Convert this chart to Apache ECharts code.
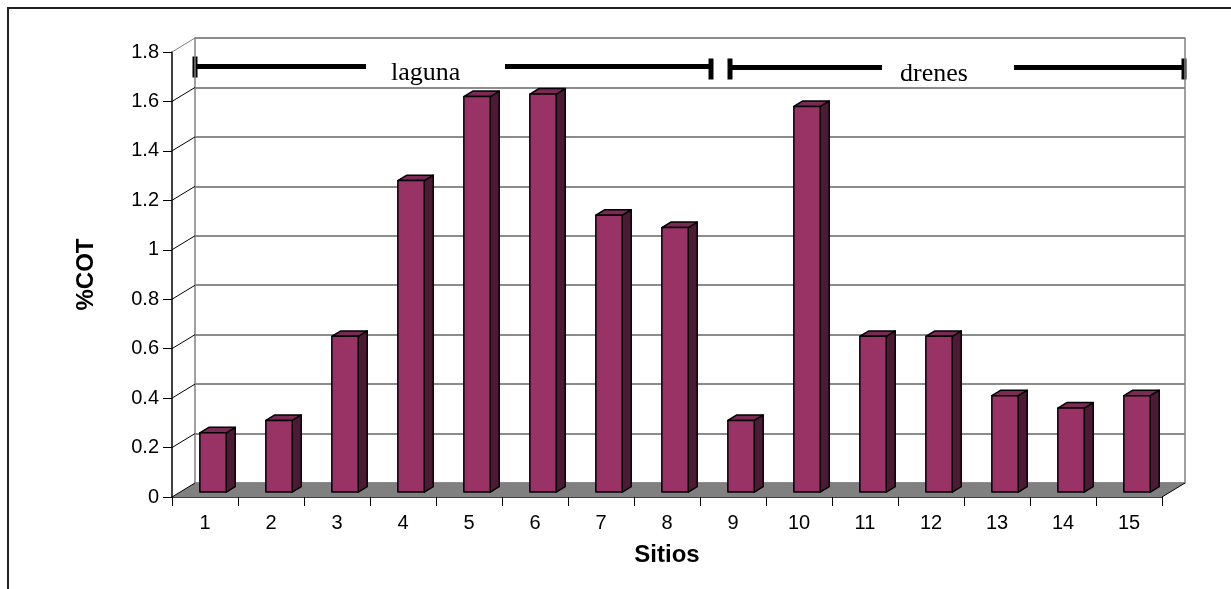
<!DOCTYPE html>
<html>
<head>
<meta charset="utf-8">
<script src="https://cdn.jsdelivr.net/npm/echarts@6/dist/echarts.min.js"></script>
<style>
  html, body { margin: 0; padding: 0; background: #ffffff; }
  #chart { width: 1231px; height: 589px; }
</style>
</head>
<body>
<div id="chart"></div>
<script>
// Sampling sites and total organic carbon (%COT) per site
const sitios = ['1', '2', '3', '4', '5', '6', '7', '8', '9', '10', '11', '12', '13', '14', '15'];
const cot = [0.24, 0.29, 0.63, 1.26, 1.60, 1.61, 1.12, 1.07, 0.29, 1.56, 0.63, 0.63, 0.39, 0.34, 0.39];
const yTicks = [0, 0.2, 0.4, 0.6, 0.8, 1.0, 1.2, 1.4, 1.6, 1.8];
const groupLabels = ['laguna', 'drenes'];
const yTitle = '%COT';
const xTitle = 'Sitios';

// 3D look: offset of the back wall relative to the front plane (px)
const DEPTH_X = 23, DEPTH_Y = -14;
// bar placement inside the depth: front face / back face fractions
const BAR_F0 = 0.35, BAR_F1 = 0.74;

const FRONT = { left: 172, right: 69, top: 52, bottom: 92 };
const BACK = {
  left: FRONT.left + DEPTH_X,
  right: FRONT.right - DEPTH_X,
  top: FRONT.top + DEPTH_Y,
  bottom: FRONT.bottom - DEPTH_Y
};

const yMin = yTicks[0], yMax = yTicks[yTicks.length - 1], yStep = yTicks[1] - yTicks[0];
const sansFont = '"Liberation Sans", Arial, sans-serif';
const serifFont = '"Liberation Serif", "Times New Roman", serif';

// floor, side-wall diagonals and right floor edge
function renderWalls(params, api) {
  const n = sitios.length;
  const bw = api.size([1, 0])[0];
  const y0 = api.coord([0, yMin])[1];
  const xl = api.coord([0, yMin])[0] - bw / 2;
  const xr = api.coord([n - 1, yMin])[0] + bw / 2;
  const children = [];
  children.push({
    type: 'polygon',
    shape: { points: [[xl, y0], [xr, y0], [xr + DEPTH_X, y0 + DEPTH_Y], [xl + DEPTH_X, y0 + DEPTH_Y]] },
    style: { fill: '#808080', stroke: null }
  });
  children.push({
    type: 'line',
    shape: { x1: xr, y1: y0, x2: xr + DEPTH_X, y2: y0 + DEPTH_Y },
    style: { stroke: '#000', lineWidth: 1 }
  });
  yTicks.forEach(function (t, i) {
    const y = api.coord([0, t])[1];
    const last = i === yTicks.length - 1;
    children.push({
      type: 'line',
      shape: { x1: xl, y1: y, x2: xl + DEPTH_X, y2: y + DEPTH_Y },
      style: { stroke: last ? '#808080' : '#000', lineWidth: 1 }
    });
  });
  return { type: 'group', children: children };
}

// one 3D column: front face, top and right side
function renderBar(params, api) {
  const idx = api.value(0);
  const val = api.value(1);
  const bw = api.size([1, 0])[0];
  const w = bw / 2.5;
  const top = api.coord([idx, val]);
  const base = api.coord([idx, 0]);
  const x0 = top[0] - w / 2 + DEPTH_X * BAR_F0;
  const yt = top[1] + DEPTH_Y * BAR_F0;
  const yb = base[1] + DEPTH_Y * BAR_F0;
  const ddx = DEPTH_X * (BAR_F1 - BAR_F0);
  const ddy = DEPTH_Y * (BAR_F1 - BAR_F0);
  const edge = { stroke: '#000', lineWidth: 1.5, lineJoin: 'round' };
  return {
    type: 'group',
    children: [
      {
        type: 'polygon',
        shape: { points: [[x0 + w, yt], [x0 + w + ddx, yt + ddy], [x0 + w + ddx, yb + ddy], [x0 + w, yb]] },
        style: Object.assign({ fill: '#4d1a35' }, edge)
      },
      {
        type: 'polygon',
        shape: { points: [[x0, yt], [x0 + ddx, yt + ddy], [x0 + w + ddx, yt + ddy], [x0 + w, yt]] },
        style: Object.assign({ fill: '#7a2a55' }, edge)
      },
      {
        type: 'rect',
        shape: { x: x0, y: yt, width: w, height: yb - yt },
        style: Object.assign({ fill: '#993366' }, edge)
      }
    ]
  };
}

// group brackets drawn along the top of the back wall
function bracket(x1, x2, gapFrom, gapTo, y) {
  const line = { stroke: '#000', lineWidth: 5 };
  return [
    { type: 'line', shape: { x1: x1, y1: y, x2: gapFrom, y2: y }, style: line },
    { type: 'line', shape: { x1: gapTo, y1: y, x2: x2, y2: y }, style: line }
  ];
}
function cap(x, y) {
  return { type: 'rect', shape: { x: x - 2.5, y: y - 10, width: 5, height: 21 }, style: { fill: '#000' } };
}

const chart = echarts.init(document.getElementById('chart'), null, { renderer: 'canvas' });

const graphics = [
  { type: 'rect', z: 0, shape: { x: 8, y: 8, width: 1400, height: 800 },
    style: { fill: null, stroke: '#222', lineWidth: 2 } }
]
  .concat(bracket(193, 711, 366, 505, 66.5))
  .concat(bracket(730, 1184, 882, 1014, 67.5))
  .concat([
    cap(195, 66.5), cap(711, 68.5), cap(730, 68.5), cap(1184, 68.5),
    { type: 'text', x: 391, y: 73, style: { text: groupLabels[0], font: '26px ' + serifFont, fill: '#000', verticalAlign: 'middle' } },
    { type: 'text', x: 900, y: 74, style: { text: groupLabels[1], font: '26px ' + serifFont, fill: '#000', verticalAlign: 'middle' } }
  ]);

chart.setOption({
  animation: false,
  backgroundColor: '#ffffff',
  grid: [
    Object.assign({ containLabel: false }, BACK),
    Object.assign({ containLabel: false }, FRONT)
  ],
  xAxis: [
    { type: 'category', gridIndex: 0, data: sitios, show: false },
    {
      type: 'category', gridIndex: 1, data: sitios, boundaryGap: true,
      axisLine: { lineStyle: { color: '#000', width: 1.5 } },
      axisTick: { show: true, interval: 0, length: 9, lineStyle: { color: '#000', width: 1 } },
      axisLabel: { interval: 0, margin: 16, color: '#000', fontSize: 20, fontFamily: sansFont },
      name: xTitle, nameLocation: 'middle', nameGap: 46,
      nameTextStyle: { color: '#000', fontSize: 24, fontWeight: 'bold', fontFamily: sansFont }
    }
  ],
  yAxis: [
    {
      type: 'value', gridIndex: 0, min: yMin, max: yMax, interval: yStep,
      axisLine: { show: true, lineStyle: { color: '#808080', width: 1.5 } },
      axisTick: { show: false }, axisLabel: { show: false },
      splitLine: { show: true, lineStyle: { color: '#666', width: 1.5 } }
    },
    {
      type: 'value', gridIndex: 0, min: yMin, max: yMax, interval: yStep, position: 'right',
      axisLine: { show: true, lineStyle: { color: '#808080', width: 1.5 } },
      axisTick: { show: false }, axisLabel: { show: false }, splitLine: { show: false }
    },
    {
      type: 'value', gridIndex: 1, min: yMin, max: yMax, interval: yStep,
      axisLine: { show: true, lineStyle: { color: '#000', width: 1.5 } },
      axisTick: { show: true, length: 9, lineStyle: { color: '#000', width: 1 } },
      axisLabel: { margin: 13, color: '#000', fontSize: 20, fontFamily: sansFont },
      splitLine: { show: false },
      name: yTitle, nameLocation: 'middle', nameGap: 74, nameRotate: 90,
      nameTextStyle: { color: '#000', fontSize: 24, fontWeight: 'bold', fontFamily: sansFont }
    }
  ],
  series: [
    {
      type: 'custom', name: 'walls', xAxisIndex: 1, yAxisIndex: 2, z: 1, clip: false,
      silent: true, data: [[0, 0]], renderItem: renderWalls
    },
    {
      type: 'custom', name: yTitle, xAxisIndex: 1, yAxisIndex: 2, z: 2, clip: false,
      data: cot.map(function (v, i) { return [i, v]; }),
      encode: { x: 0, y: 1 },
      renderItem: renderBar
    }
  ],
  graphic: graphics
});
</script>
</body>
</html>
